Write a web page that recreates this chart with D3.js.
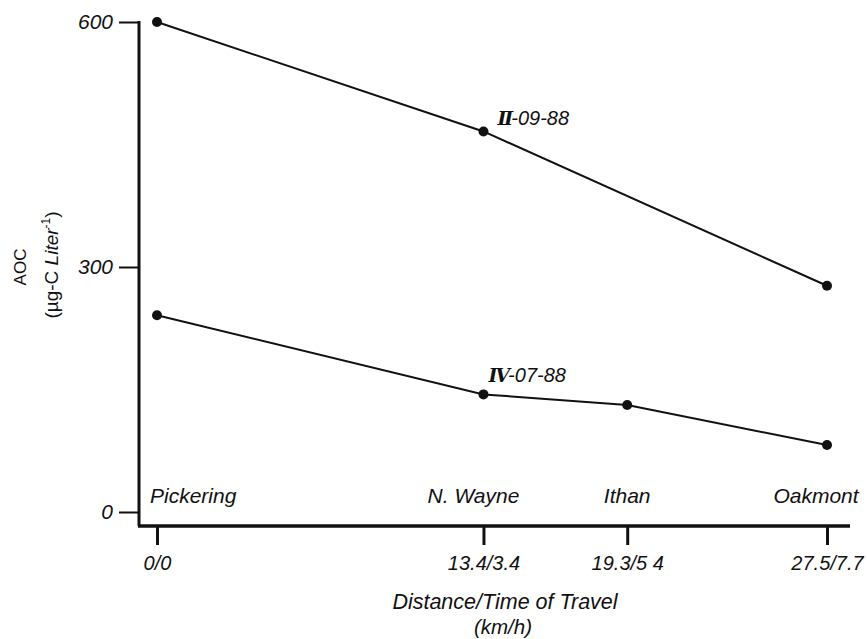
<!DOCTYPE html>
<html>
<head>
<meta charset="utf-8">
<script src="https://cdn.jsdelivr.net/npm/d3@7"></script>
<style>
  body { margin: 0; background: #fff; }
  text { font-family: "Liberation Sans", Arial, sans-serif; fill: #111; }
</style>
</head>
<body>
<svg width="867" height="639"></svg>
<script>
// données
const distances = [0, 13.4, 19.3, 27.5];
const tickLabels = ["0/0", "13.4/3.4", "19.3/5 4", "27.5/7.7"];
const stations = ["Pickering", "N. Wayne", "Ithan", "Oakmont"];
const yTicks = [0, 300, 600];

const seriesII = [
  { d: 0, aoc: 600 },
  { d: 13.4, aoc: 466 },
  { d: 27.5, aoc: 277 }
];
const seriesIV = [
  { d: 0, aoc: 241 },
  { d: 13.4, aoc: 144 },
  { d: 19.3, aoc: 131 },
  { d: 27.5, aoc: 82 }
];

const svg = d3.select("svg");
const ink = "#111";

// échelles
const x = d3.scaleLinear().domain([0, 27.5]).range([157, 827]);
const y = d3.scaleLinear().domain([0, 600]).range([512, 22]);

const axisX = 139;   // position de l'axe vertical
const axisY = 526;   // position de l'axe horizontal

// axe Y
const gy = svg.append("g")
  .attr("transform", `translate(${axisX},0)`)
  .call(d3.axisLeft(y).tickValues(yTicks).tickSize(20).tickPadding(6));
gy.select(".domain").remove();
gy.selectAll(".tick line").attr("stroke", ink).attr("stroke-width", 2);
gy.selectAll(".tick text")
  .attr("font-size", 21).attr("font-style", "italic")
  .attr("font-family", "Liberation Sans, Arial, sans-serif").attr("fill", ink);

// axe X
const gx = svg.append("g")
  .attr("transform", `translate(0,${axisY})`)
  .call(d3.axisBottom(x).tickValues(distances)
    .tickFormat((d, i) => tickLabels[i]).tickSize(19).tickPadding(11));
gx.select(".domain").remove();
gx.selectAll(".tick line").attr("stroke", ink).attr("stroke-width", 3);
gx.selectAll(".tick text")
  .attr("font-size", 20).attr("font-style", "italic")
  .attr("font-family", "Liberation Sans, Arial, sans-serif").attr("fill", ink);

// lignes des axes
svg.append("line")
  .attr("x1", axisX).attr("x2", axisX)
  .attr("y1", y(600) - 1).attr("y2", axisY)
  .attr("stroke", ink).attr("stroke-width", 3);
svg.append("line")
  .attr("x1", axisX - 1).attr("x2", 850)
  .attr("y1", axisY).attr("y2", axisY)
  .attr("stroke", ink).attr("stroke-width", 3.5);

// courbes
const line = d3.line().x(d => x(d.d)).y(d => y(d.aoc));

[seriesII, seriesIV].forEach(s => {
  svg.append("path")
    .attr("d", line(s))
    .attr("fill", "none")
    .attr("stroke", ink)
    .attr("stroke-width", 2);
  svg.selectAll(null)
    .data(s)
    .enter().append("circle")
    .attr("cx", d => x(d.d))
    .attr("cy", d => y(d.aoc))
    .attr("r", 5)
    .attr("fill", ink);
});

// étiquettes des séries
function seriesLabel(pt, roman, rest, dx, dy) {
  const t = svg.append("text")
    .attr("x", x(pt.d) + dx)
    .attr("y", y(pt.aoc) + dy)
    .attr("font-size", 20);
  t.append("tspan")
    .attr("font-family", "DejaVu Serif, serif")
    .attr("font-weight", "bold")
    .attr("font-style", "italic")
    .attr("font-size", 19)
    .attr("letter-spacing", -2)
    .text(roman);
  t.append("tspan")
    .attr("font-style", "italic")
    .text(rest);
}
seriesLabel(seriesII[1], "II", "-09-88", 14, -6);
seriesLabel(seriesIV[1], "IV", "-07-88", 5, -12);

// noms des stations
const stationOffset = [-7, -10, 0, -11];
const stationAnchor = ["start", "middle", "middle", "middle"];
svg.selectAll(".station")
  .data(stations)
  .enter().append("text")
  .attr("class", "station")
  .attr("x", (d, i) => x(distances[i]) + stationOffset[i])
  .attr("y", 503)
  .attr("text-anchor", (d, i) => stationAnchor[i])
  .attr("font-size", 21)
  .attr("font-style", "italic")
  .text(d => d);

// titres des axes
svg.append("text")
  .attr("x", 505).attr("y", 609)
  .attr("text-anchor", "middle")
  .attr("font-size", 21.5).attr("font-style", "italic")
  .text("Distance/Time of Travel");
svg.append("text")
  .attr("x", 503).attr("y", 634)
  .attr("text-anchor", "middle")
  .attr("font-size", 20.5).attr("font-style", "italic")
  .text("(km/h)");

svg.append("text")
  .attr("transform", "translate(26,267) rotate(-90)")
  .attr("text-anchor", "middle")
  .attr("font-size", 17)
  .text("AOC");
const yt = svg.append("text")
  .attr("transform", "translate(58,265) rotate(-90)")
  .attr("text-anchor", "middle")
  .attr("font-size", 19);
yt.append("tspan").text("(µg-C  ");
yt.append("tspan").attr("font-style", "italic").text("Liter");
yt.append("tspan").attr("font-size", 12).attr("dy", -8).text("-1");
yt.append("tspan").attr("dy", 8).text(")");
</script>
</body>
</html>
